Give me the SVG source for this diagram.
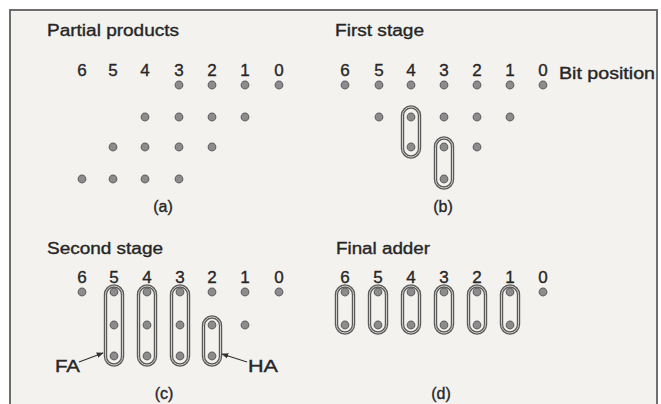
<svg xmlns="http://www.w3.org/2000/svg" width="661" height="404" viewBox="0 0 661 404">
<defs>
<style>
text{font-family:"Liberation Sans",Arial,sans-serif;fill:#262626;stroke:#262626;stroke-width:0.35}
.t{font-size:16px}
.d{font-size:17px;text-anchor:middle}
.c{font-size:16px;text-anchor:middle}
.dot{fill:#8c8c8c;stroke:#666;stroke-width:1.2}
.cap{fill:none;stroke:#5a5a5a;stroke-width:3.4}
.capi{fill:none;stroke:#cfcdca;stroke-width:1}
.ln{stroke:#333;stroke-width:1.3;fill:none}
</style>
<marker id="ah" viewBox="0 0 10 10" refX="9" refY="5" markerWidth="7" markerHeight="7" orient="auto" markerUnits="userSpaceOnUse">
<path d="M0,1 L10,5 L0,9 Z" fill="#333"/>
</marker>
</defs>
<rect x="0" y="0" width="661" height="404" fill="#ffffff"/>
<rect x="10" y="10" width="647" height="400" fill="#f4f2ef" stroke="#6e6e6e" stroke-width="2"/>

<g id="panel-a">
<text class="t" x="47" y="36" textLength="132" lengthAdjust="spacingAndGlyphs">Partial products</text>
<text class="d" x="82" y="76">6</text><text class="d" x="113" y="76">5</text><text class="d" x="145" y="76">4</text><text class="d" x="179" y="76">3</text><text class="d" x="212" y="76">2</text><text class="d" x="245" y="76">1</text><text class="d" x="279" y="76">0</text>
<circle class="dot" cx="179" cy="85" r="3.8"/><circle class="dot" cx="212" cy="85" r="3.8"/><circle class="dot" cx="245" cy="85" r="3.8"/><circle class="dot" cx="279" cy="85" r="3.8"/>
<circle class="dot" cx="145" cy="117" r="3.8"/><circle class="dot" cx="179" cy="117" r="3.8"/><circle class="dot" cx="212" cy="117" r="3.8"/><circle class="dot" cx="245" cy="117" r="3.8"/>
<circle class="dot" cx="113" cy="147" r="3.8"/><circle class="dot" cx="145" cy="147" r="3.8"/><circle class="dot" cx="179" cy="147" r="3.8"/><circle class="dot" cx="212" cy="147" r="3.8"/>
<circle class="dot" cx="82" cy="179" r="3.8"/><circle class="dot" cx="113" cy="179" r="3.8"/><circle class="dot" cx="145" cy="179" r="3.8"/><circle class="dot" cx="179" cy="179" r="3.8"/>
<text class="c" x="163" y="212">(a)</text>
</g>

<g id="panel-b">
<text class="t" x="335" y="36" textLength="89" lengthAdjust="spacingAndGlyphs">First stage</text>
<text class="d" x="345" y="76">6</text><text class="d" x="379" y="76">5</text><text class="d" x="411" y="76">4</text><text class="d" x="444" y="76">3</text><text class="d" x="477" y="76">2</text><text class="d" x="510" y="76">1</text><text class="d" x="543" y="76">0</text>
<text class="t" x="559" y="79" font-size="17" textLength="96" lengthAdjust="spacingAndGlyphs">Bit position</text>
<circle class="dot" cx="345" cy="85" r="3.8"/><circle class="dot" cx="379" cy="85" r="3.8"/><circle class="dot" cx="411" cy="85" r="3.8"/><circle class="dot" cx="444" cy="85" r="3.8"/><circle class="dot" cx="477" cy="85" r="3.8"/><circle class="dot" cx="510" cy="85" r="3.8"/><circle class="dot" cx="543" cy="85" r="3.8"/>
<circle class="dot" cx="379" cy="117" r="3.8"/><circle class="dot" cx="411" cy="117" r="3.8"/><circle class="dot" cx="444" cy="117" r="3.8"/><circle class="dot" cx="477" cy="117" r="3.8"/><circle class="dot" cx="510" cy="117" r="3.8"/>
<circle class="dot" cx="411" cy="147" r="3.8"/><circle class="dot" cx="444" cy="147" r="3.8"/><circle class="dot" cx="477" cy="147" r="3.8"/>
<circle class="dot" cx="444" cy="179" r="3.8"/>
<rect class="cap" x="402.5" y="107" width="17" height="50" rx="8.5"/><rect class="capi" x="402.5" y="107" width="17" height="50" rx="8.5"/>
<rect class="cap" x="435.5" y="138" width="17" height="50" rx="8.5"/><rect class="capi" x="435.5" y="138" width="17" height="50" rx="8.5"/>
<text class="c" x="443" y="212">(b)</text>
</g>

<g id="panel-c">
<text class="t" x="47" y="254" textLength="116" lengthAdjust="spacingAndGlyphs">Second stage</text>
<text class="d" x="82" y="283">6</text><text class="d" x="114" y="283">5</text><text class="d" x="147" y="283">4</text><text class="d" x="180" y="283">3</text><text class="d" x="212" y="283">2</text><text class="d" x="245" y="283">1</text><text class="d" x="279" y="283">0</text>
<circle class="dot" cx="82" cy="292" r="3.8"/><circle class="dot" cx="114" cy="292" r="3.8"/><circle class="dot" cx="147" cy="292" r="3.8"/><circle class="dot" cx="180" cy="292" r="3.8"/><circle class="dot" cx="212" cy="292" r="3.8"/><circle class="dot" cx="245" cy="292" r="3.8"/><circle class="dot" cx="279" cy="292" r="3.8"/>
<circle class="dot" cx="114" cy="325" r="3.8"/><circle class="dot" cx="147" cy="325" r="3.8"/><circle class="dot" cx="180" cy="325" r="3.8"/><circle class="dot" cx="212" cy="325" r="3.8"/><circle class="dot" cx="245" cy="325" r="3.8"/>
<circle class="dot" cx="114" cy="356" r="3.8"/><circle class="dot" cx="147" cy="356" r="3.8"/><circle class="dot" cx="180" cy="356" r="3.8"/><circle class="dot" cx="212" cy="356" r="3.8"/>
<rect class="cap" x="105.5" y="286" width="17" height="79" rx="8.5"/><rect class="capi" x="105.5" y="286" width="17" height="79" rx="8.5"/>
<rect class="cap" x="138.5" y="286" width="17" height="79" rx="8.5"/><rect class="capi" x="138.5" y="286" width="17" height="79" rx="8.5"/>
<rect class="cap" x="171.5" y="286" width="17" height="79" rx="8.5"/><rect class="capi" x="171.5" y="286" width="17" height="79" rx="8.5"/>
<rect class="cap" x="203.5" y="317" width="17" height="48" rx="8.5"/><rect class="capi" x="203.5" y="317" width="17" height="48" rx="8.5"/>
<text class="t" x="55" y="372" font-size="17" textLength="25" lengthAdjust="spacingAndGlyphs">FA</text>
<text class="t" x="248" y="372" font-size="17" textLength="30" lengthAdjust="spacingAndGlyphs">HA</text>
<text class="c" x="164" y="399">(c)</text>
</g>

<g id="panel-d">
<text class="t" x="336" y="254" textLength="94" lengthAdjust="spacingAndGlyphs">Final adder</text>
<text class="d" x="345" y="283">6</text><text class="d" x="378" y="283">5</text><text class="d" x="411" y="283">4</text><text class="d" x="444" y="283">3</text><text class="d" x="477" y="283">2</text><text class="d" x="510" y="283">1</text><text class="d" x="543" y="283">0</text>
<circle class="dot" cx="345" cy="292" r="3.8"/><circle class="dot" cx="378" cy="292" r="3.8"/><circle class="dot" cx="411" cy="292" r="3.8"/><circle class="dot" cx="444" cy="292" r="3.8"/><circle class="dot" cx="477" cy="292" r="3.8"/><circle class="dot" cx="510" cy="292" r="3.8"/><circle class="dot" cx="543" cy="292" r="3.8"/>
<circle class="dot" cx="345" cy="325" r="3.8"/><circle class="dot" cx="378" cy="325" r="3.8"/><circle class="dot" cx="411" cy="325" r="3.8"/><circle class="dot" cx="444" cy="325" r="3.8"/><circle class="dot" cx="477" cy="325" r="3.8"/><circle class="dot" cx="510" cy="325" r="3.8"/>
<rect class="cap" x="336.5" y="286" width="17" height="47" rx="8.5"/><rect class="capi" x="336.5" y="286" width="17" height="47" rx="8.5"/>
<rect class="cap" x="369.5" y="286" width="17" height="47" rx="8.5"/><rect class="capi" x="369.5" y="286" width="17" height="47" rx="8.5"/>
<rect class="cap" x="402.5" y="286" width="17" height="47" rx="8.5"/><rect class="capi" x="402.5" y="286" width="17" height="47" rx="8.5"/>
<rect class="cap" x="435.5" y="286" width="17" height="47" rx="8.5"/><rect class="capi" x="435.5" y="286" width="17" height="47" rx="8.5"/>
<rect class="cap" x="468.5" y="286" width="17" height="47" rx="8.5"/><rect class="capi" x="468.5" y="286" width="17" height="47" rx="8.5"/>
<rect class="cap" x="501.5" y="286" width="17" height="47" rx="8.5"/><rect class="capi" x="501.5" y="286" width="17" height="47" rx="8.5"/>
<text class="c" x="441" y="399">(d)</text>
</g>

<g id="connectors">
<line class="ln" x1="79" y1="362" x2="103" y2="353" marker-end="url(#ah)"/>
<line class="ln" x1="247" y1="362" x2="222" y2="354" marker-end="url(#ah)"/>
</g>
</svg>
